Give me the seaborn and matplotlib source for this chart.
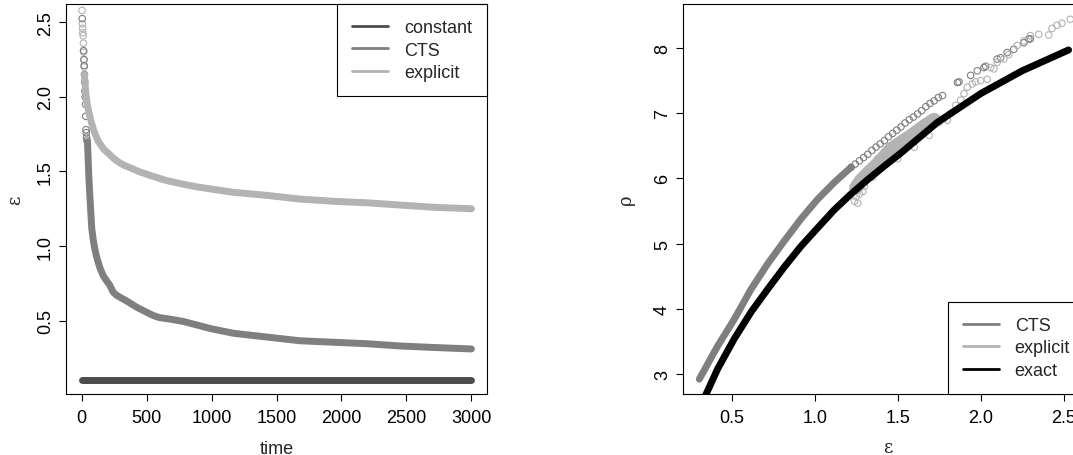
import matplotlib
matplotlib.use("Agg")
import matplotlib.pyplot as plt
from matplotlib.lines import Line2D
import seaborn as sns

# ---- left panel: epsilon over time ----
const_time = [0, 3000]
const_eps = [0.1, 0.1]

cts_time = [45, 50, 55, 62, 70, 78, 90, 102, 115, 128, 145, 167, 190, 215, 244,
            270, 295, 350, 424, 480, 552, 600, 681, 780, 890, 1000, 1170, 1425,
            1680, 1940, 2200, 2450, 2710, 3000]
cts_eps = [1.70, 1.60, 1.48, 1.36, 1.24, 1.12, 1.04, 0.98, 0.93, 0.89, 0.845, 0.80,
           0.77, 0.74, 0.69, 0.67, 0.657, 0.63, 0.59, 0.565, 0.534, 0.52, 0.51,
           0.495, 0.47, 0.445, 0.415, 0.39, 0.365, 0.355, 0.345, 0.33, 0.32, 0.31]
cts_early_time = [5, 15, 18, 20, 22, 24, 26, 28, 30, 32, 34, 36, 38, 41]
cts_early_eps = [2.525, 2.31, 2.25, 2.21, 2.15, 2.10, 2.04, 2.00, 1.95, 1.87, 1.78,
                 1.76, 1.73, 1.71]

expl_time = [22, 30, 40, 55, 75, 100, 130, 170, 220, 250, 290, 320, 360, 400, 440,
             540, 650, 780, 900, 1170, 1425, 1680, 1940, 2200, 2450, 2710, 3000]
expl_eps = [2.15, 2.05, 1.97, 1.90, 1.83, 1.76, 1.70, 1.65, 1.61, 1.585, 1.56, 1.545,
            1.53, 1.515, 1.50, 1.47, 1.44, 1.415, 1.395, 1.36, 1.34, 1.315, 1.30,
            1.29, 1.275, 1.26, 1.25]
expl_early_time = [3, 6, 8, 10, 12, 14, 16, 18, 20]
expl_early_eps = [2.58, 2.49, 2.46, 2.43, 2.41, 2.36, 2.30, 2.25, 2.20]

# ---- right panel: rho against epsilon ----
cts_dense_eps = [0.305, 0.416, 0.516, 0.617, 0.717, 0.817, 0.918, 1.018, 1.119, 1.219]
cts_dense_rho = [2.92, 3.43, 3.84, 4.30, 4.69, 5.04, 5.38, 5.68, 5.94, 6.17]
cts_pts_eps = [1.22, 1.245, 1.27, 1.295, 1.32, 1.345, 1.37, 1.395, 1.42, 1.445, 1.47,
               1.495, 1.52, 1.545, 1.57, 1.595, 1.62, 1.645, 1.67, 1.695, 1.72, 1.745,
               1.77, 1.86, 1.87, 1.94, 1.98, 2.02, 2.03, 2.10, 2.12, 2.16, 2.20, 2.26,
               2.29, 2.30]
cts_pts_rho = [6.17, 6.22, 6.27, 6.32, 6.37, 6.43, 6.48, 6.53, 6.58, 6.64, 6.69, 6.74,
               6.79, 6.85, 6.90, 6.94, 6.99, 7.04, 7.10, 7.15, 7.19, 7.24, 7.27, 7.47,
               7.48, 7.58, 7.65, 7.70, 7.72, 7.83, 7.85, 7.93, 7.98, 8.08, 8.14, 8.14]

expl_band_eps = [1.25, 1.28, 1.33, 1.38, 1.43, 1.46, 1.52, 1.58, 1.66, 1.72]
expl_band_rho = [5.86, 5.97, 6.10, 6.22, 6.36, 6.45, 6.55, 6.65, 6.80, 6.90]
expl_pts_eps = [1.24, 1.25, 1.26, 1.27, 1.29, 1.30, 1.32, 1.35, 1.38, 1.42, 1.46,
                1.50, 1.55, 1.60, 1.64, 1.69, 1.75, 1.78, 1.80, 1.82, 1.85, 1.88,
                1.90, 1.92, 1.95, 1.97, 2.00, 2.04, 2.06, 2.08, 2.10, 2.14, 2.17,
                2.22, 2.26, 2.30, 2.35, 2.41, 2.43, 2.46, 2.49, 2.54]
expl_pts_rho = [5.65, 5.72, 5.62, 5.76, 5.80, 5.88, 6.06, 6.02, 6.30, 6.20, 6.40,
                6.30, 6.58, 6.48, 6.68, 6.66, 6.86, 6.92, 6.89, 7.00, 7.12, 7.20,
                7.30, 7.40, 7.45, 7.48, 7.50, 7.52, 7.70, 7.68, 7.78, 7.83, 7.90,
                8.04, 8.11, 8.19, 8.21, 8.20, 8.30, 8.35, 8.38, 8.44]

exact_eps = [0.33, 0.416, 0.516, 0.617, 0.717, 0.817, 0.918, 1.018, 1.119, 1.219,
             1.319, 1.42, 1.52, 1.74, 2.0, 2.25, 2.53]
exact_rho = [2.60, 3.08, 3.54, 3.95, 4.30, 4.64, 4.96, 5.24, 5.52, 5.76, 5.98, 6.19,
             6.39, 6.86, 7.30, 7.65, 7.97]

C_CONST, C_CTS, C_EXPL, C_EXACT = "#4d4d4d", "#7f7f7f", "#b3b3b3", "black"

sns.set_theme(style="ticks")
plt.rcParams["font.family"] = ["Liberation Sans", "DejaVu Sans"]
plt.rcParams["font.size"] = 13

W, H = 1073, 456
fig = plt.figure(figsize=(W / 100, H / 100), dpi=100)
ax1 = fig.add_axes([66 / W, 61 / H, 421 / W, 390 / H])
ax2 = fig.add_axes([683 / W, 61 / H, 409 / W, 390 / H])

band = dict(sort=False, estimator=None, legend=False, lw=5,
            solid_capstyle="round", solid_joinstyle="round")
ring = dict(s=22, facecolor="none", linewidth=0.8, legend=False)

# left
sns.lineplot(x=const_time, y=const_eps, ax=ax1, color=C_CONST, **band)
sns.lineplot(x=expl_time, y=expl_eps, ax=ax1, color=C_EXPL, **band)
sns.scatterplot(x=expl_early_time, y=expl_early_eps, ax=ax1, edgecolor=C_EXPL, **ring)
sns.lineplot(x=cts_time, y=cts_eps, ax=ax1, color=C_CTS, **band)
sns.scatterplot(x=cts_early_time, y=cts_early_eps, ax=ax1, edgecolor=C_CTS, **ring)
ax1.set_xlim(-120, 3120)
ax1.set_ylim(0.008, 2.623)
ax1.set_xticks([0, 500, 1000, 1500, 2000, 2500, 3000])
ax1.set_yticks([0.5, 1.0, 1.5, 2.0, 2.5])
ax1.set_xlabel("time")
ax1.set_ylabel("ε", family="DejaVu Serif")

# right
sns.lineplot(x=cts_dense_eps, y=cts_dense_rho, ax=ax2, color=C_CTS, **band)
sns.scatterplot(x=cts_pts_eps, y=cts_pts_rho, ax=ax2, edgecolor=C_CTS, **ring)
sns.lineplot(x=expl_band_eps, y=expl_band_rho, ax=ax2, color=C_EXPL,
             **{**band, "lw": 10})
sns.scatterplot(x=expl_pts_eps, y=expl_pts_rho, ax=ax2, edgecolor=C_EXPL, **ring)
sns.lineplot(x=exact_eps, y=exact_rho, ax=ax2, color=C_EXACT, **band)
ax2.set_xlim(0.207, 2.671)
ax2.set_ylim(2.693, 8.675)
ax2.set_xticks([0.5, 1.0, 1.5, 2.0, 2.5])
ax2.set_yticks([3, 4, 5, 6, 7, 8])
ax2.set_xlabel("ε", family="DejaVu Serif")
ax2.set_ylabel("ρ", family="DejaVu Serif")

for ax in (ax1, ax2):
    for sp in ax.spines.values():
        sp.set_visible(True)
        sp.set_color("black")
        sp.set_linewidth(0.8)
    ax.tick_params(axis="both", direction="out", length=5, width=0.8,
                   colors="black", labelsize=13)
    ax.tick_params(axis="x", pad=5.5)
    ax.tick_params(axis="y", pad=3.6, labelrotation=90)
    for lab in ax.get_yticklabels():
        lab.set_va("center")
    ax.xaxis.label.set_size(13)
    ax.yaxis.label.set_size(13)

ax1.xaxis.set_label_coords(0.5, -0.117)
ax2.xaxis.set_label_coords(0.5, -0.113)
ax1.yaxis.set_label_coords(-0.10, 0.5)
ax2.yaxis.set_label_coords(-0.117, 0.5)

leg_kw = dict(frameon=True, fancybox=False, edgecolor="black", framealpha=1,
              borderaxespad=0, handlelength=2.0, handletextpad=0.85,
              borderpad=0.84, labelspacing=0.3, fontsize=13)

h1 = [Line2D([], [], color=c, lw=2) for c in (C_CONST, C_CTS, C_EXPL)]
lg1 = ax1.legend(h1, ["constant", "CTS", "explicit"], loc="upper right", **leg_kw)
lg1.get_frame().set_linewidth(0.8)

h2 = [Line2D([], [], color=c, lw=2) for c in (C_CTS, C_EXPL, C_EXACT)]
lg2 = ax2.legend(h2, ["CTS", "explicit", "exact"], loc="lower left",
                 bbox_to_anchor=((948 - 683) / 409, 0), **leg_kw)
lg2.get_frame().set_linewidth(0.8)

fig.savefig("out.png", dpi=100)
